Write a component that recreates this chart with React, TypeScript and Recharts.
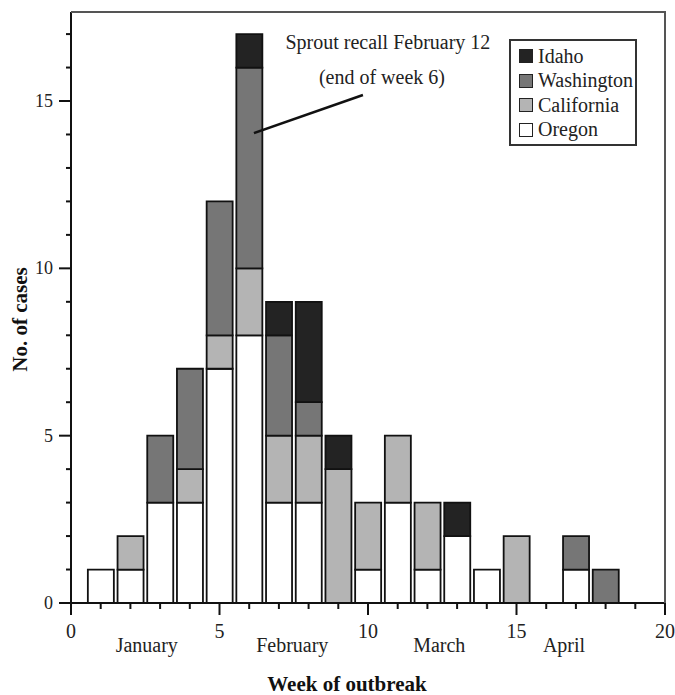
import { Bar, BarChart, Legend, ReferenceDot, ReferenceLine, XAxis, YAxis } from 'recharts';

const SERIF = '"Liberation Serif", "Times New Roman", serif';

// cases per week of outbreak, by state
const weeks = [1, 2, 3, 4, 5, 6, 7, 8, 9, 10, 11, 12, 13, 14, 15, 16, 17, 18];
const oregon = [1, 1, 3, 3, 7, 8, 3, 3, 0, 1, 3, 1, 2, 1, 0, 0, 1, 0];
const california = [0, 1, 0, 1, 1, 2, 2, 2, 4, 2, 2, 2, 0, 0, 2, 0, 0, 0];
const washington = [0, 0, 2, 3, 4, 6, 3, 1, 0, 0, 0, 0, 0, 0, 0, 0, 1, 1];
const idaho = [0, 0, 0, 0, 0, 1, 1, 3, 1, 0, 0, 0, 1, 0, 0, 0, 0, 0];

const states = [
    { key: 'Idaho', color: '#232323' },
    { key: 'Washington', color: '#767676' },
    { key: 'California', color: '#b4b4b4' },
    { key: 'Oregon', color: '#ffffff' },
];

const xTicks = [0, 1, 2, 3, 4, 5, 6, 7, 8, 9, 10, 11, 12, 13, 14, 15, 16, 17, 18, 19, 20];
const yTicks = [0, 1, 2, 3, 4, 5, 6, 7, 8, 9, 10, 11, 12, 13, 14, 15, 16, 17];
const monthNames = ['January', 'February', 'March', 'April'];
const monthWeeks = [2.55, 7.45, 12.4, 16.6];
const X_MAX = 20;
const Y_MAX = 17.66;

const recallLines = ['Sprout recall February 12', '(end of week 6)'];

const CHART_W = 675;
const CHART_H = 695;
const MARGIN = { top: 12, right: 10, bottom: 0, left: 0 };
const Y_AXIS_W = 71;
const X_AXIS_H = 40;
const MONTH_AXIS_H = 52;

const data = weeks.map((week, i) => ({
    week,
    Oregon: oregon[i],
    California: california[i],
    Washington: washington[i],
    Idaho: idaho[i],
}));

const WeekTick = ({ x, y, payload }: any) => {
    const major = payload.value % 5 === 0;
    return (
        <g>
            <line x1={x} x2={x} y1={y} y2={y + (major ? 12 : 6)} stroke="#111" strokeWidth={2} />
            {major && (
                <text x={x} y={y + 35} textAnchor="middle" fontSize={20} fontFamily={SERIF} fill="#222">
                    {payload.value}
                </text>
            )}
        </g>
    );
};

const MonthTick = ({ x, y, payload }: any) => (
    <text x={x} y={y + 9} textAnchor="middle" fontSize={20} fontFamily={SERIF} fill="#222">
        {monthNames[monthWeeks.indexOf(payload.value)]}
    </text>
);

const CaseTick = ({ x, y, payload }: any) => {
    const major = payload.value % 5 === 0;
    return (
        <g>
            <line x1={x - (major ? 12 : 5)} x2={x} y1={y} y2={y} stroke="#111" strokeWidth={2} />
            {major && (
                <text x={x - 18} y={y} dy="0.33em" textAnchor="end" fontSize={18} fontFamily={SERIF} fill="#222">
                    {payload.value}
                </text>
            )}
        </g>
    );
};

const CaseAxisLabel = ({ viewBox }: any) => {
    const cx = viewBox.x + 20;
    const cy = viewBox.y + viewBox.height / 2 + 12;
    return (
        <text
            x={cx}
            y={cy}
            dy="0.35em"
            transform={`rotate(-90 ${cx} ${cy})`}
            textAnchor="middle"
            fontSize={21}
            fontWeight="bold"
            fontFamily={SERIF}
            fill="#111"
        >
            No. of cases
        </text>
    );
};

const StateLegend = () => (
    <div
        style={{
            width: 128,
            boxSizing: 'border-box',
            border: '2px solid #333',
            padding: '3px 0 2px 8px',
            background: '#fff',
            fontFamily: SERIF,
            fontSize: 20,
            color: '#222',
        }}
    >
        {states.map((s) => (
            <div key={s.key} style={{ display: 'flex', alignItems: 'center', height: 24.5 }}>
                <span
                    style={{
                        width: 14,
                        height: 14,
                        boxSizing: 'border-box',
                        border: '1.5px solid #222',
                        background: s.color,
                        marginRight: 5,
                    }}
                />
                {s.key}
            </div>
        ))}
    </div>
);

// grey top and right edges of the plot box, laid over the chart
const plotLeft = MARGIN.left + Y_AXIS_W;
const plotRight = CHART_W - MARGIN.right;
const plotBottom = CHART_H - MARGIN.bottom - X_AXIS_H - MONTH_AXIS_H;

export default function App() {
    return (
        <div style={{ position: 'absolute', left: 0, top: 0, background: '#fff', fontFamily: SERIF }}>
            <BarChart width={CHART_W} height={CHART_H} data={data} margin={MARGIN}>
                <XAxis
                    dataKey="week"
                    type="number"
                    domain={[0, X_MAX]}
                    allowDataOverflow
                    ticks={xTicks}
                    interval={0}
                    tick={<WeekTick />}
                    tickLine={false}
                    tickSize={0}
                    tickMargin={0}
                    height={X_AXIS_H}
                    axisLine={{ stroke: '#111', strokeWidth: 2 }}
                />
                <XAxis
                    xAxisId="months"
                    dataKey="week"
                    type="number"
                    domain={[0, X_MAX]}
                    allowDataOverflow
                    ticks={monthWeeks}
                    interval={0}
                    tick={<MonthTick />}
                    tickLine={false}
                    tickSize={0}
                    tickMargin={0}
                    axisLine={false}
                    height={MONTH_AXIS_H}
                    label={({ viewBox }: any) => (
                        <text
                            x={viewBox.x + viewBox.width / 2 - 21}
                            y={viewBox.y + 48}
                            textAnchor="middle"
                            fontSize={21}
                            fontWeight="bold"
                            fontFamily={SERIF}
                            fill="#111"
                        >
                            Week of outbreak
                        </text>
                    )}
                />
                <YAxis
                    type="number"
                    domain={[0, Y_MAX]}
                    allowDataOverflow
                    ticks={yTicks}
                    interval={0}
                    width={Y_AXIS_W}
                    tick={<CaseTick />}
                    tickLine={false}
                    tickSize={0}
                    tickMargin={0}
                    axisLine={{ stroke: '#111', strokeWidth: 2 }}
                    label={(props: any) => <CaseAxisLabel {...props} />}
                />
                <Legend
                    layout="vertical"
                    align="center"
                    verticalAlign="middle"
                    content={() => <StateLegend />}
                    wrapperStyle={{ left: 509, top: 39, width: 128 }}
                />
                {[...states].reverse().map((s) => (
                    <Bar
                        key={s.key}
                        dataKey={s.key}
                        stackId="cases"
                        fill={s.color}
                        stroke="#111"
                        strokeWidth={1.8}
                        barSize={26}
                        isAnimationActive={false}
                    />
                ))}
                <ReferenceLine
                    segment={[
                        { x: 6.16, y: 14.04 },
                        { x: 9.83, y: 15.18 },
                    ]}
                    stroke="#111"
                    strokeWidth={2.5}
                    ifOverflow="visible"
                />
                <ReferenceDot
                    x={10.67}
                    y={16.55}
                    r={0}
                    fill="none"
                    stroke="none"
                    ifOverflow="visible"
                    label={({ viewBox }: any) => (
                        <text x={viewBox.x} y={viewBox.y} textAnchor="middle" fontSize={20} fontFamily={SERIF} fill="#222">
                            {recallLines[0]}
                        </text>
                    )}
                />
                <ReferenceDot
                    x={10.47}
                    y={15.5}
                    r={0}
                    fill="none"
                    stroke="none"
                    ifOverflow="visible"
                    label={({ viewBox }: any) => (
                        <text x={viewBox.x} y={viewBox.y} textAnchor="middle" fontSize={20} fontFamily={SERIF} fill="#222">
                            {recallLines[1]}
                        </text>
                    )}
                />
            </BarChart>
            <div
                style={{
                    position: 'absolute',
                    left: plotLeft,
                    top: MARGIN.top - 1,
                    width: plotRight - plotLeft + 1,
                    height: plotBottom - MARGIN.top + 1,
                    boxSizing: 'border-box',
                    borderTop: '2px solid #555',
                    borderRight: '2px solid #555',
                    pointerEvents: 'none',
                }}
            />
        </div>
    );
}
